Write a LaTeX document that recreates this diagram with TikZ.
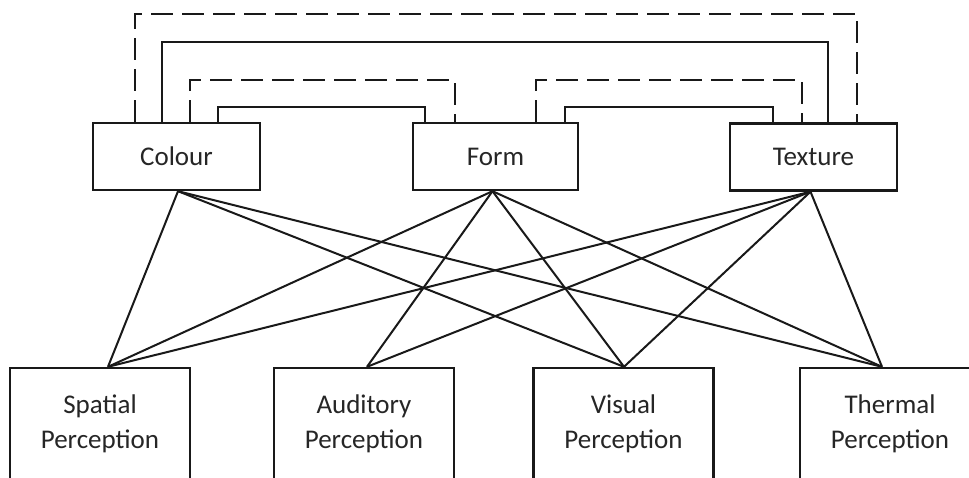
\documentclass[tikz,border=0pt]{standalone}
\usepackage{fontspec}
\setmainfont{Carlito}
\begin{document}
\begin{tikzpicture}[x=1pt,y=-1pt,
  box/.style={draw=black!90,line width=2.4pt,rectangle,inner sep=0pt,
    font=\fontsize{27}{35}\selectfont,align=center,text=black!85},
  topbox/.style={box,minimum width=167pt,minimum height=67pt},
  botbox/.style={box,minimum width=180pt,minimum height=112pt},
  solidlink/.style={draw=black!90,line width=2.4pt},
  dashlink/.style={draw=black!90,line width=2.4pt,dash pattern=on 22pt off 9pt},
  cross/.style={draw=black!90,line width=2pt}]
\useasboundingbox (0,0) rectangle (969,477);
\fill[white] (0,0) rectangle (969,477);
\clip (0,0) rectangle (969,477);
% top boxes
\node[topbox] (colour) at (176.5,156.5) {Colour};
\node[topbox,minimum width=165pt] (form) at (495.5,156.5) {Form};
\node[topbox] (texture) at (813.5,157) {Texture};
% bottom boxes
\node[botbox] (spatial) at (100,424) {Spatial\\Perception};
\node[botbox] (auditory) at (364,424) {Auditory\\Perception};
\node[botbox] (visual) at (623.5,424) {Visual\\Perception};
\node[botbox] (thermal) at (890,424) {Thermal\\Perception};
% levels
\coordinate (h1) at (0,14);
\coordinate (h2) at (0,42);
\coordinate (h3) at (0,80);
\coordinate (h4) at (0,107);
% top connection points
\coordinate (c1) at ([xshift=-41.5pt]colour.north);
\coordinate (c2) at ([xshift=-14.5pt]colour.north);
\coordinate (c3) at ([xshift=13.5pt]colour.north);
\coordinate (c4) at ([xshift=41.5pt]colour.north);
\coordinate (f1) at ([xshift=-70.5pt]form.north);
\coordinate (f2) at ([xshift=-40.5pt]form.north);
\coordinate (f3) at ([xshift=40.5pt]form.north);
\coordinate (f4) at ([xshift=69.5pt]form.north);
\coordinate (t1) at ([xshift=-40.5pt]texture.north);
\coordinate (t2) at ([xshift=-11.5pt]texture.north);
\coordinate (t3) at ([xshift=14.5pt]texture.north);
\coordinate (t4) at ([xshift=43.5pt]texture.north);
% top connectors
\draw[dashlink] (c1) -- (c1 |- h1) -| (t4);
\draw[solidlink] (c2) -- (c2 |- h2) -| (t3);
\draw[dashlink] (c3) -- (c3 |- h3) -| (f2);
\draw[solidlink] (c4) -- (c4 |- h4) -| (f1);
\draw[dashlink] (f3) -- (f3 |- h3) -| (t2);
\draw[solidlink] (f4) -- (f4 |- h4) -| (t1);
% cross connection points
\coordinate (cs) at ([xshift=1.5pt]colour.south);
\coordinate (fs) at ([xshift=-3pt]form.south);
\coordinate (ts) at ([xshift=-3pt]texture.south);
\coordinate (sn) at ([xshift=8pt]spatial.north);
\coordinate (an) at ([xshift=3pt]auditory.north);
\coordinate (vn) at ([xshift=0.5pt]visual.north);
\coordinate (thn) at ([xshift=-8pt]thermal.north);
% cross connectors
\draw[cross] (cs) -- (sn);
\draw[cross] (cs) -- (vn);
\draw[cross] (cs) -- (thn);
\draw[cross] (fs) -- (sn);
\draw[cross] (fs) -- (an);
\draw[cross] (fs) -- (vn);
\draw[cross] (fs) -- (thn);
\draw[cross] (ts) -- (sn);
\draw[cross] (ts) -- (an);
\draw[cross] (ts) -- (vn);
\draw[cross] (ts) -- (thn);
\end{tikzpicture}
\end{document}
